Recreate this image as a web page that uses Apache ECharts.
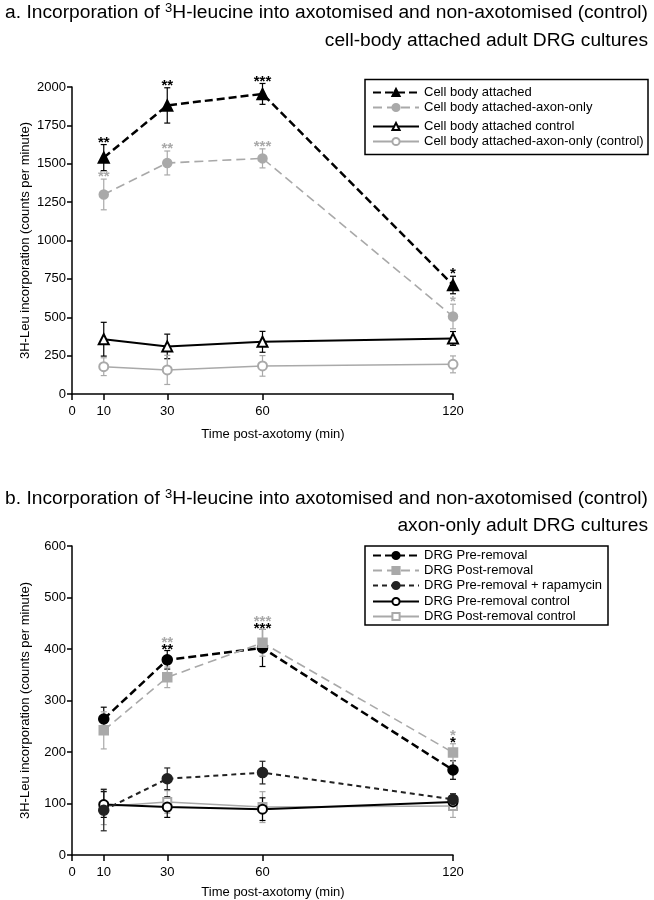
<!DOCTYPE html>
<html><head><meta charset="utf-8">
<script src="https://cdn.jsdelivr.net/npm/echarts@6/dist/echarts.min.js"></script>
<style>html,body{margin:0;padding:0;background:#fff}#c{width:654px;height:900px}</style>
</head><body><div id="c"></div>
<script>
// ---------- data ----------
const times = [10, 30, 60, 120];
const xTicks = [0, 10, 30, 60, 120];

// Chart a
const attached = [1540, 1880, 1955, 710];
const attachedErr = [85, 115, 68, 57];
const axonOnly = [1300, 1505, 1535, 505];
const axonOnlyErr = [100, 78, 62, 80];
const attachedCtrl = [357, 310, 340, 362];
const attachedCtrlErr = [110, 80, 68, 45];
const axonOnlyCtrl = [178, 157, 183, 193];
const axonOnlyCtrlErr = [58, 95, 67, 55];
const sigAttached = ['**', '**', '***', '*'];
const sigAxonOnly = ['**', '**', '***', '*'];

// Chart b
const preRem = [264, 379, 402, 165];
const preRemErr = [23, 18, 36, 18];
const postRem = [242, 345, 412, 199];
const postRemErr = [36, 20, 26, 17];
const rapa = [87, 148, 160, 108];
const rapaErr = [40, 21, 22, 11];
const preCtrl = [98, 93, 89, 103];
const preCtrlErr = [25, 20, 22, 10];
const postCtrl = [94, 103, 93, 95];
const postCtrlErr = [35, 22, 30, 22];
const sigPre = ['', '**', '***', '*'];
const sigPost = ['', '**', '***', '*'];

const namesA = ['Cell body attached', 'Cell body attached-axon-only', 'Cell body attached control', 'Cell body attached-axon-only (control)'];
const namesB = ['DRG Pre-removal', 'DRG Post-removal', 'DRG Pre-removal + rapamycin', 'DRG Pre-removal control', 'DRG Post-removal control'];

// ---------- helpers ----------
const FONT = '"Liberation Sans", Arial, Helvetica, sans-serif';
const GRAY = '#a9a9a9';

function pts(vals) { return times.map((t, i) => [t, vals[i]]); }

function lineSeries(name, ai, vals, color, width, type, symbol, size) {
  return {
    type: 'line', name, xAxisIndex: ai, yAxisIndex: ai, data: pts(vals), z: 3,
    symbol, symbolSize: size, showSymbol: true,
    lineStyle: { color, width, type },
    itemStyle: { color, borderColor: color, borderWidth: 1.5, opacity: 1 },
    emphasis: { disabled: true }, animation: false
  };
}

function errSeries(ai, vals, errs, color, width) {
  return {
    type: 'custom', xAxisIndex: ai, yAxisIndex: ai, z: 2, silent: true, animation: false,
    data: times.map((t, i) => [t, vals[i], errs[i]]),
    encode: { x: 0, y: 1 },
    renderItem: (params, api) => {
      const x = api.value(0), v = api.value(1), e = api.value(2);
      const top = api.coord([x, v + e]), bot = api.coord([x, v - e]);
      const hw = 3, st = { stroke: color, lineWidth: width };
      return { type: 'group', children: [
        { type: 'line', shape: { x1: top[0], y1: top[1], x2: bot[0], y2: bot[1] }, style: st },
        { type: 'line', shape: { x1: top[0] - hw, y1: top[1], x2: top[0] + hw, y2: top[1] }, style: st },
        { type: 'line', shape: { x1: bot[0] - hw, y1: bot[1], x2: bot[0] + hw, y2: bot[1] }, style: st }
      ]};
    }
  };
}

function starSeries(ai, anchors, texts, color, dy) {
  return {
    type: 'custom', xAxisIndex: ai, yAxisIndex: ai, z: 5, silent: true, animation: false,
    data: times.map((t, i) => [t, anchors[i]]),
    encode: { x: 0, y: 1 },
    renderItem: (params, api) => {
      const p = api.coord([api.value(0), api.value(1)]);
      return { type: 'text', x: p[0], y: p[1] + dy,
        style: { text: texts[params.dataIndex], fill: color, font: 'bold 15px ' + FONT, align: 'center', verticalAlign: 'middle' } };
    }
  };
}

const anchorAtt = attached.map((v, i) => v + attachedErr[i]);
const anchorAxo = axonOnly.map((v, i) => v + axonOnlyErr[i]);
const anchorB = preRem.map((v, i) => Math.max(v + preRemErr[i], postRem[i] + postRemErr[i]));

function xAxisCfg(ai, gap) {
  return {
    gridIndex: ai, type: 'value', min: 0, max: 120,
    axisLine: { show: true, onZero: false, lineStyle: { color: '#000', width: 1.5 } },
    axisTick: { show: true, customValues: xTicks, length: 6, lineStyle: { color: '#000', width: 1.5 } },
    axisLabel: { customValues: xTicks, color: '#000', fontSize: 13, fontFamily: FONT, margin: 11 },
    splitLine: { show: false },
    name: 'Time post-axotomy (min)', nameLocation: 'middle', nameGap: gap, nameMoveOverlap: false,
    nameTextStyle: { color: '#000', fontSize: 13, fontFamily: FONT, padding: [0, 0, 0, 21] }
  };
}
function yAxisCfg(ai, max, interval) {
  return {
    gridIndex: ai, type: 'value', min: 0, max, interval,
    axisLine: { show: true, lineStyle: { color: '#000', width: 1.5 } },
    axisTick: { show: true, length: 5, lineStyle: { color: '#000', width: 1.5 } },
    axisLabel: { color: '#000', fontSize: 13, fontFamily: FONT, margin: 6, formatter: v => String(v) },
    splitLine: { show: false },
    name: '3H-Leu incorporation (counts per minute)', nameLocation: 'middle', nameGap: 40, nameMoveOverlap: false,
    nameTextStyle: { color: '#000', fontSize: 13, fontFamily: FONT }
  };
}
function legendCfg(left, top, data) {
  return {
    left, top, orient: 'vertical', itemWidth: 46, itemHeight: 9, itemGap: 2, padding: 0,
    selectedMode: false, data,
    textStyle: { color: '#000', fontSize: 13, fontFamily: FONT }
  };
}
const titleStyle = { fontSize: 19.2, fontFamily: FONT, fontWeight: 'normal', color: '#000' };
function titleLine1(top, letter) {
  return {
    right: 6, top, padding: 0,
    text: '{n|' + letter + '. Incorporation of }{s|3}{n|H-leucine into axotomised and non-axotomised (control)}',
    textStyle: {
      fontWeight: 'normal',
      rich: {
        n: Object.assign({ lineHeight: 24 }, titleStyle),
        s: { fontSize: 13, fontFamily: FONT, fontWeight: 'normal', color: '#000', lineHeight: 24, padding: [0, 0, 10, 0] }
      }
    }
  };
}
function titleLine2(top, text) {
  return { right: 6, top, padding: 0, text, textStyle: Object.assign({ lineHeight: 24 }, titleStyle) };
}

const chart = echarts.init(document.getElementById('c'), null, { renderer: 'canvas' });
chart.setOption({
  animation: false,
  backgroundColor: '#fff',
  title: [
    titleLine1(1, 'a'),
    titleLine2(29, 'cell-body attached adult DRG cultures'),
    titleLine1(487, 'b'),
    titleLine2(514, 'axon-only adult DRG cultures')
  ],
  grid: [
    { left: 72, top: 87, width: 381, height: 307 },
    { left: 72, top: 546, width: 381, height: 311 }
  ],
  xAxis: [xAxisCfg(0, 34), xAxisCfg(1, 31)],
  yAxis: [yAxisCfg(0, 2000, 250), yAxisCfg(1, 600, 100)],
  legend: [
    legendCfg(372, 86, namesA.slice(0, 2)),
    legendCfg(372, 120, namesA.slice(2)),
    legendCfg(372, 549, namesB.slice(0, 3)),
    legendCfg(372, 595, namesB.slice(3))
  ],
  graphic: [
    { type: 'rect', shape: { x: 365, y: 79.5, width: 283, height: 75 }, style: { fill: 'none', stroke: '#000', lineWidth: 1.5 }, silent: true },
    { type: 'rect', shape: { x: 365, y: 546, width: 243, height: 79 }, style: { fill: 'none', stroke: '#000', lineWidth: 1.5 }, silent: true }
  ],
  series: [
    // chart a
    errSeries(0, attachedCtrl, attachedCtrlErr, '#000', 1.2),
    errSeries(0, axonOnlyCtrl, axonOnlyCtrlErr, GRAY, 1.2),
    errSeries(0, axonOnly, axonOnlyErr, GRAY, 1.2),
    errSeries(0, attached, attachedErr, '#000', 1.2),
    lineSeries(namesA[3], 0, axonOnlyCtrl, GRAY, 1.5, 'solid', 'emptyCircle', 9),
    lineSeries(namesA[2], 0, attachedCtrl, '#000', 2, 'solid', 'emptyTriangle', 10),
    lineSeries(namesA[1], 0, axonOnly, GRAY, 1.6, [9, 5], 'circle', 9),
    lineSeries(namesA[0], 0, attached, '#000', 2.5, [8, 4], 'triangle', 11),
    starSeries(0, anchorAtt, sigAttached, '#000', -2),
    starSeries(0, anchorAxo, sigAxonOnly, GRAY, -2),
    // chart b
    errSeries(1, postCtrl, postCtrlErr, GRAY, 1.2),
    errSeries(1, preCtrl, preCtrlErr, '#000', 1.2),
    errSeries(1, rapa, rapaErr, '#222', 1.2),
    errSeries(1, preRem, preRemErr, '#000', 1.2),
    errSeries(1, postRem, postRemErr, GRAY, 1.2),
    lineSeries(namesB[4], 1, postCtrl, GRAY, 1.5, 'solid', 'emptyRect', 8),
    lineSeries(namesB[3], 1, preCtrl, '#000', 2, 'solid', 'emptyCircle', 9),
    lineSeries(namesB[2], 1, rapa, '#222', 2, [5, 4], 'circle', 10),
    lineSeries(namesB[0], 1, preRem, '#000', 2.5, [8, 4], 'circle', 10),
    lineSeries(namesB[1], 1, postRem, GRAY, 1.6, [9, 5], 'rect', 9),
    starSeries(1, anchorB, sigPre, '#000', -1),
    starSeries(1, anchorB, sigPost, GRAY, -8)
  ]
});
</script>
</body></html>
